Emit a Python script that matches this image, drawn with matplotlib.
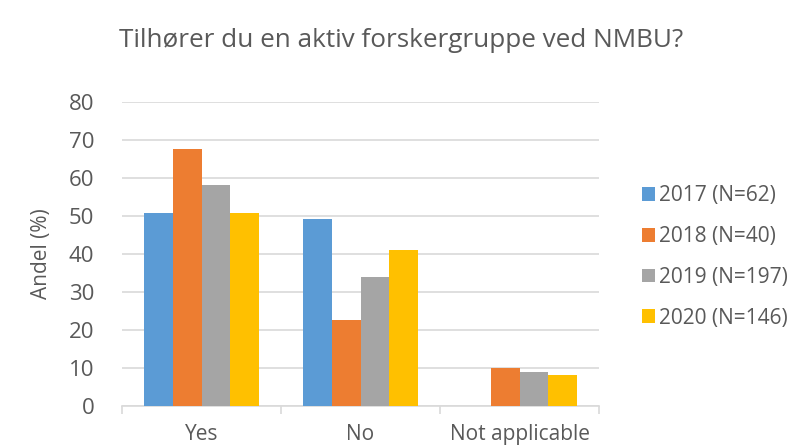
import matplotlib
matplotlib.use("Agg")
import matplotlib.pyplot as plt
import numpy as np

# --- Данные ---
categories = ["Yes", "No", "Not applicable"]
series_labels = ["2017 (N=62)", "2018 (N=40)", "2019 (N=197)", "2020 (N=146)"]
values_2017 = [50.8, 49.2, 0.0]
values_2018 = [67.5, 22.5, 10.0]
values_2019 = [58.0, 33.9, 8.9]
values_2020 = [50.7, 41.1, 8.2]
colors = ["#5B9BD5", "#ED7D31", "#A5A5A5", "#FFC000"]

plt.rcParams["font.family"] = ["Open Sans", "DejaVu Sans"]
text_color = "#595959"

fig = plt.figure(figsize=(8.08, 4.48), dpi=100)
ax = fig.add_axes([122 / 808, 1 - 406 / 448, (599 - 122) / 808, (406 - 101.7) / 448])

x = np.arange(len(categories))
width = 0.18
all_values = [values_2017, values_2018, values_2019, values_2020]
for i, (vals, lab, col) in enumerate(zip(all_values, series_labels, colors)):
    ax.bar(x + (i - 1.5) * width, vals, width, label=lab, color=col, zorder=3)

ax.set_xlim(-0.5, 2.5)
ax.set_ylim(0, 80)
ax.set_yticks(range(0, 81, 10))
ax.yaxis.grid(True, color="#D9D9D9", linewidth=1.2, zorder=0)
for s in ["top", "right", "left"]:
    ax.spines[s].set_visible(False)
ax.spines["bottom"].set_color("#D9D9D9")
ax.spines["bottom"].set_linewidth(1.2)

# разделители категорий
ax.set_xticks([-0.5, 0.5, 1.5, 2.5])
ax.set_xticklabels([])
ax.tick_params(axis="x", length=6, color="#D9D9D9", width=1.2)
ax.set_xticks(x, minor=True)
ax.set_xticklabels(categories, minor=True)
ax.tick_params(axis="x", which="minor", length=0, pad=13, labelsize=15, labelcolor=text_color)
ax.tick_params(axis="y", length=0, pad=20, labelsize=16, labelcolor=text_color)

ax.set_ylabel("Andel (%)", fontsize=15, color=text_color, labelpad=12)
fig.text(0.497, 0.91, "Tilhører du en aktiv forskergruppe ved NMBU?",
         ha="center", va="center", fontsize=18.8, color=text_color)

leg = ax.legend(loc="center left", bbox_to_anchor=(1.05, 0.49), frameon=False,
                fontsize=15, labelcolor=text_color, handlelength=0.65, handleheight=0.65,
                handletextpad=0.2, labelspacing=0.95)

plt.savefig("out.png", dpi=100)
